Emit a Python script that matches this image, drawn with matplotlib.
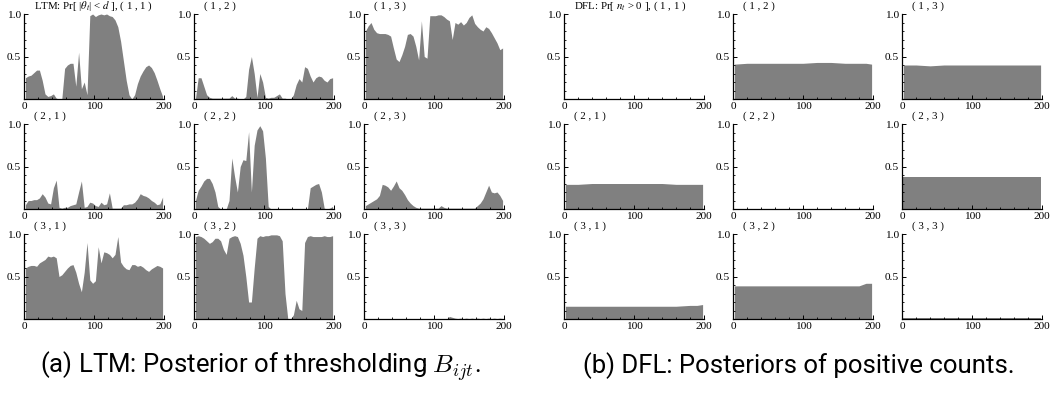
import matplotlib
matplotlib.use('Agg')
import matplotlib.pyplot as plt

# ---------------- data ----------------
T_LTM = list(range(2, 200, 4))          # time index (50 points)
T_DFL = [2, 20, 40, 60, 80, 100, 120, 140, 160, 180, 190, 198]

ltm_11 = [0.25, 0.27, 0.28, 0.31, 0.34, 0.34, 0.22, 0.06, 0.03, 0.04,
          0.06, 0.01, 0.0, 0.0, 0.36, 0.40, 0.42, 0.42, 0.15, 0.55,
          0.12, 0.2, 0.05, 0.98, 1.0, 0.97, 0.99, 1.0, 0.99, 1.0,
          0.98, 0.97, 0.93, 0.85, 0.68, 0.45, 0.22, 0.05, 0.0, 0.05,
          0.18, 0.27, 0.33, 0.38, 0.40, 0.37, 0.31, 0.22, 0.12, 0.03]
ltm_12 = [0.0, 0.25, 0.25, 0.15, 0.05, 0.02, 0.01, 0.01, 0.01, 0.01,
          0.01, 0.01, 0.01, 0.04, 0.01, 0.01, 0.0, 0.0, 0.03, 0.35,
          0.5, 0.3, 0.02, 0.3, 0.2, 0.02, 0.01, 0.02, 0.02, 0.04,
          0.06, 0.01, 0.01, 0.0, 0.0, 0.05, 0.17, 0.24, 0.2, 0.38,
          0.36, 0.27, 0.2, 0.25, 0.27, 0.26, 0.22, 0.2, 0.24, 0.25]
ltm_13 = [0.8, 0.86, 0.9, 0.82, 0.78, 0.77, 0.77, 0.77, 0.76, 0.74,
          0.6, 0.47, 0.44, 0.52, 0.62, 0.76, 0.77, 0.74, 0.62, 0.46,
          0.92, 0.5, 0.48, 0.98, 0.98, 0.98, 0.99, 0.99, 0.97, 0.94,
          0.92, 0.7, 0.9, 0.88, 0.91, 0.87, 0.9, 0.96, 0.99, 0.89,
          0.85, 0.82, 0.8, 0.85, 0.83, 0.78, 0.72, 0.66, 0.58, 0.6]
ltm_21 = [0.05, 0.1, 0.1, 0.11, 0.11, 0.13, 0.18, 0.14, 0.07, 0.06,
          0.25, 0.34, 0.02, 0.01, 0.02, 0.02, 0.04, 0.05, 0.06, 0.2,
          0.33, 0.02, 0.03, 0.08, 0.07, 0.04, 0.03, 0.08, 0.05, 0.06,
          0.19, 0.01, 0.01, 0.01, 0.01, 0.05, 0.05, 0.06, 0.06, 0.08,
          0.12, 0.18, 0.16, 0.15, 0.13, 0.1, 0.08, 0.05, 0.06, 0.14]
ltm_22 = [0.1, 0.22, 0.27, 0.33, 0.36, 0.36, 0.3, 0.2, 0.03, 0.0,
          0.0, 0.0, 0.1, 0.6, 0.38, 0.2, 0.5, 0.58, 0.57, 0.91,
          0.2, 0.75, 0.93, 0.98, 0.92, 0.6, 0.03, 0.0, 0.0, 0.0,
          0.0, 0.0, 0.0, 0.0, 0.0, 0.0, 0.0, 0.0, 0.0, 0.0,
          0.0, 0.25, 0.27, 0.29, 0.3, 0.2, 0.01, 0.0, 0.01, 0.03]
ltm_23 = [0.04, 0.06, 0.08, 0.1, 0.12, 0.16, 0.29, 0.28, 0.26, 0.22,
          0.27, 0.33, 0.25, 0.22, 0.17, 0.11, 0.07, 0.04, 0.02, 0.01,
          0.01, 0.01, 0.01, 0.01, 0.01, 0.01, 0.01, 0.04, 0.02, 0.01,
          0.01, 0.01, 0.01, 0.01, 0.01, 0.01, 0.01, 0.01, 0.01, 0.01,
          0.04, 0.07, 0.12, 0.2, 0.28, 0.2, 0.19, 0.2, 0.16, 0.1]
ltm_31 = [0.6, 0.62, 0.63, 0.63, 0.62, 0.66, 0.68, 0.7, 0.74, 0.73,
          0.74, 0.72, 0.5, 0.52, 0.56, 0.6, 0.63, 0.64, 0.55, 0.42,
          0.32, 0.55, 0.9, 0.46, 0.42, 0.45, 0.85, 0.66, 0.79, 0.78,
          0.76, 0.72, 0.76, 0.97, 0.67, 0.62, 0.59, 0.58, 0.64, 0.64,
          0.62, 0.63, 0.61, 0.58, 0.56, 0.59, 0.61, 0.63, 0.62, 0.6]
ltm_32 = [0.97, 0.98, 0.97, 0.95, 0.92, 0.89, 0.91, 0.95, 0.95, 0.92,
          0.82, 0.76, 0.95, 0.97, 0.98, 0.97, 0.89, 0.75, 0.5, 0.2,
          0.2, 0.6, 0.95, 0.98, 0.97, 0.98, 0.98, 0.99, 0.99, 0.99,
          0.98, 0.92, 0.3, 0.0, 0.0, 0.05, 0.22, 0.12, 0.1, 0.9,
          0.97, 0.98, 0.97, 0.97, 0.97, 0.97, 0.98, 0.97, 0.97, 0.98]
ltm_33 = [0.0, 0.0, 0.0, 0.0, 0.0, 0.0, 0.0, 0.0, 0.0, 0.0,
          0.0, 0.0, 0.0, 0.0, 0.0, 0.0, 0.0, 0.0, 0.0, 0.0,
          0.0, 0.0, 0.0, 0.0, 0.0, 0.0, 0.0, 0.0, 0.0, 0.0,
          0.03, 0.02, 0.01, 0.005, 0.01, 0.005, 0.01, 0.005, 0.01, 0.005,
          0.01, 0.005, 0.01, 0.005, 0.01, 0.005, 0.01, 0.005, 0.01, 0.005]

dfl_11 = [0.0, 0.0, 0.0, 0.0, 0.0, 0.0, 0.0, 0.005, 0.0, 0.0, 0.0, 0.0]
dfl_12 = [0.41, 0.42, 0.42, 0.42, 0.42, 0.42, 0.43, 0.43, 0.42, 0.42, 0.42, 0.41]
dfl_13 = [0.40, 0.40, 0.39, 0.40, 0.40, 0.40, 0.40, 0.40, 0.40, 0.40, 0.40, 0.40]
dfl_21 = [0.29, 0.29, 0.30, 0.30, 0.30, 0.30, 0.30, 0.30, 0.29, 0.29, 0.29, 0.29]
dfl_22 = [0.0, 0.0, 0.0, 0.0, 0.0, 0.0, 0.0, 0.0, 0.0, 0.0, 0.0, 0.0]
dfl_23 = [0.38, 0.38, 0.38, 0.38, 0.38, 0.38, 0.38, 0.38, 0.38, 0.38, 0.38, 0.38]
dfl_31 = [0.15, 0.15, 0.15, 0.15, 0.15, 0.15, 0.15, 0.15, 0.15, 0.16, 0.16, 0.17]
dfl_32 = [0.39, 0.39, 0.39, 0.39, 0.39, 0.39, 0.39, 0.39, 0.39, 0.39, 0.42, 0.42]
dfl_33 = [0.01, 0.01, 0.01, 0.01, 0.01, 0.01, 0.01, 0.01, 0.01, 0.01, 0.01, 0.01]

LTM = [[ltm_11, ltm_12, ltm_13], [ltm_21, ltm_22, ltm_23], [ltm_31, ltm_32, ltm_33]]
DFL = [[dfl_11, dfl_12, dfl_13], [dfl_21, dfl_22, dfl_23], [dfl_31, dfl_32, dfl_33]]

LTM_FIRST_TITLE = r"LTM: Pr[ |$\theta_t$| < $d$ ], ( 1 , 1 )"
DFL_FIRST_TITLE = r"DFL: Pr[ $n_t$ > 0 ], ( 1 , 1 )"
CAPTION_A = r"(a) LTM: Posterior of thresholding $B_{ijt}$."
CAPTION_B = "(b) DFL: Posteriors of positive counts."

# ---------------- layout ----------------
plt.rcParams['font.family'] = ['Liberation Serif', 'DejaVu Serif']
plt.rcParams['mathtext.fontset'] = 'stix'

W, H = 1052, 394
fig = plt.figure(figsize=(W / 100, H / 100), dpi=100)

LEFTS_LTM = [24, 194, 364]
LEFTS_DFL = [564, 733, 902]
TOPS = [14, 124, 234]
AW, AH = 140, 85
GRAY = '#808080'


def make_ax(left, top):
    ax = fig.add_axes([left / W, 1 - (top + AH) / H, AW / W, AH / H])
    ax.set_xlim(0, 200)
    ax.set_ylim(0, 1)
    for s in ('top', 'right'):
        ax.spines[s].set_visible(False)
    for s in ('left', 'bottom'):
        ax.spines[s].set_linewidth(0.9)
    ax.set_xticks([0, 100, 200])
    ax.set_xticklabels(['0', '100', '200'])
    ax.set_xticks(range(0, 201, 20), minor=True)
    ax.set_yticks([0.5, 1.0])
    ax.set_yticklabels(['0.5', '1.0'])
    ax.set_yticks([0.1, 0.2, 0.3, 0.4, 0.6, 0.7, 0.8, 0.9], minor=True)
    ax.tick_params(which='major', direction='in', length=3, width=0.7,
                   labelsize=8.2, pad=2)
    ax.tick_params(which='minor', direction='in', length=1.6, width=0.6)
    return ax


for group, (data, T, lefts, first) in enumerate([
        (LTM, T_LTM, LEFTS_LTM, LTM_FIRST_TITLE),
        (DFL, T_DFL, LEFTS_DFL, DFL_FIRST_TITLE)]):
    for i in range(3):
        for j in range(3):
            ax = make_ax(lefts[j], TOPS[i])
            ax.fill_between(T, data[i][j], 0, color=GRAY, linewidth=0)
            title = first if (i == 0 and j == 0) else f"( {i + 1} , {j + 1} )"
            ax.text(0.07, 1.09, title, transform=ax.transAxes,
                    fontsize=7.8, ha='left', va='center')

fig.text(260 / W, 1 - 366 / H, CAPTION_A, ha='center', va='center',
         fontsize=18.5, family=['Roboto', 'DejaVu Sans'],
         math_fontfamily='cm')
fig.text(799 / W, 1 - 366 / H, CAPTION_B, ha='center', va='center',
         fontsize=18.5, family=['Roboto', 'DejaVu Sans'])

fig.savefig('out.png', dpi=100)
